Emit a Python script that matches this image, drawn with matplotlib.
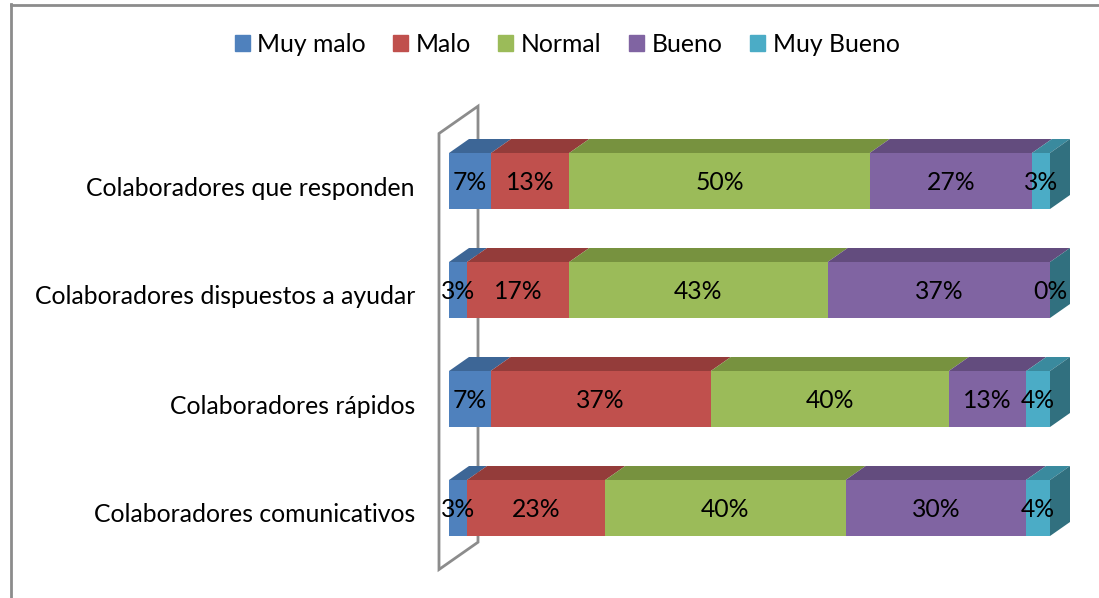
import numpy as np
import matplotlib.pyplot as plt
from matplotlib.patches import Polygon
from matplotlib.lines import Line2D

plt.rcParams['font.family'] = ['Lato', 'DejaVu Sans']

categories = ["Colaboradores comunicativos", "Colaboradores rápidos",
              "Colaboradores dispuestos a ayudar", "Colaboradores que responden"]
series = ["Muy malo", "Malo", "Normal", "Bueno", "Muy Bueno"]
# rows follow categories (bottom to top), columns follow series
values = np.array([
    [3, 23, 40, 30, 4],
    [7, 37, 40, 13, 4],
    [3, 17, 43, 37, 0],
    [7, 13, 50, 27, 3],
])

front_colors = ["#4f81bd", "#c0504d", "#9bbb59", "#8064a2", "#4bacc6"]
top_colors = ["#3d6696", "#943c3a", "#77923f", "#634c7e", "#3a8a9e"]
side_color = "#31707f"
wall_color = "#8c8c8c"
fs = 17.8

W, H = 1099, 598
fig = plt.figure(figsize=(W / 100, H / 100), dpi=100)
# plot area of the front plane in pixels: x 449..1050, y 126.5..562.5 (from top)
ax = fig.add_axes([449 / W, (H - 562.5) / H, 601 / W, 436 / H])
ax.set_xlim(0, 100)
ax.set_ylim(-0.5, 3.5)
ax.axis("off")

# depth offset of the 3D effect in data units (20 px right, 14 px up)
dx = 20 / 6.01
dy = 14 / 109.0
bar_h = 56 / 109.0

# side wall: thin parallelogram from depth -0.5 to 1.45
d0, d1 = -0.5, 1.45
wall = Polygon([(d0 * dx, -0.5 + d0 * dy), (d0 * dx, 3.5 + d0 * dy),
                (d1 * dx, 3.5 + d1 * dy), (d1 * dx, -0.5 + d1 * dy)],
               closed=True, fill=False, edgecolor=wall_color, lw=2,
               clip_on=False, zorder=1)
ax.add_patch(wall)

widths = values / values.sum(axis=1, keepdims=True) * 100
lefts = np.cumsum(widths, axis=1) - widths

for i in range(len(categories)):
    y_top = i + bar_h / 2
    y_bot = i - bar_h / 2
    for j in range(len(series)):
        x0 = lefts[i, j]
        w = widths[i, j]
        ax.barh(i, w, left=x0, height=bar_h, color=front_colors[j],
                edgecolor="none", zorder=3, clip_on=False)
        top = Polygon([(x0, y_top), (x0 + w, y_top),
                       (x0 + w + dx, y_top + dy), (x0 + dx, y_top + dy)],
                      closed=True, facecolor=top_colors[j], edgecolor="none",
                      zorder=2, clip_on=False)
        ax.add_patch(top)
        ax.text(x0 + w / 2, i - 0.015, f"{values[i, j]}%", ha="center",
                va="center", fontsize=fs, color="black", zorder=5,
                clip_on=False)
    side = Polygon([(100, y_bot), (100, y_top), (100 + dx, y_top + dy),
                    (100 + dx, y_bot + dy)], closed=True,
                   facecolor=side_color, edgecolor="none", zorder=2,
                   clip_on=False)
    ax.add_patch(side)
    # category labels sit on the front edge of the wall
    ax.text(-34 / 6.01, i + d0 * dy, categories[i], ha="right", va="center",
            fontsize=fs, color="black")

handles = [plt.Rectangle((0, 0), 1, 1, color=c) for c in front_colors]
fig.legend(handles, series, loc="center", bbox_to_anchor=(0.516, 0.926),
           ncol=5, frameon=False, fontsize=fs, handlelength=0.6,
           handleheight=0.6, handletextpad=0.32, columnspacing=1.1)

# chart border (only left and top visible in the crop)
fig.add_artist(Line2D([10.5 / W, 10.5 / W], [0, 1 - 4 / H],
                      color=wall_color, lw=2, transform=fig.transFigure))
fig.add_artist(Line2D([10.5 / W, 1], [1 - 4.5 / H, 1 - 4.5 / H],
                      color=wall_color, lw=2, transform=fig.transFigure))

fig.savefig("out.png", dpi=100, facecolor="white")
